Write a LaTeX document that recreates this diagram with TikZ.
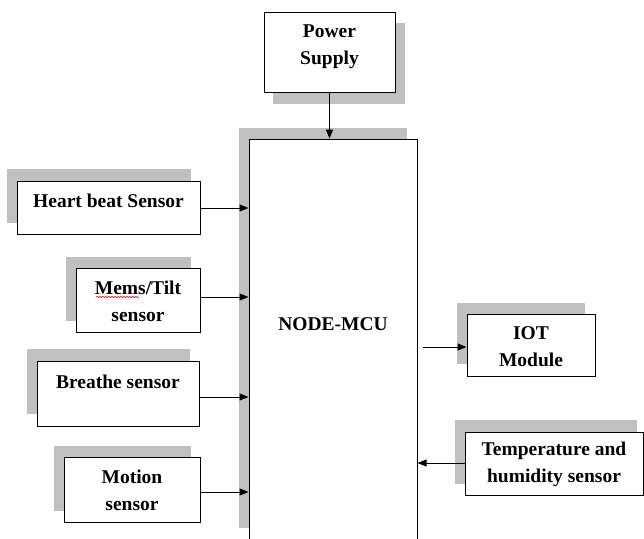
\documentclass[tikz,border=0pt]{standalone}
\usepackage{fontspec}
\setmainfont{Liberation Serif}
\usetikzlibrary{arrows.meta,decorations.pathmorphing}
\definecolor{shadowgray}{RGB}{192,192,192}
\tikzset{
  shadowfill/.style={fill=shadowgray,draw=none},
  blockbox/.style={draw=black,line width=1pt,fill=white,inner sep=0pt},
  lbl/.style={font=\fontsize{19.5}{27}\selectfont\bfseries,align=center,inner sep=0pt},
  arr/.style={line width=1pt,-{Triangle[length=9pt,width=7pt]}},
  squiggle/.style={red,line width=0.5pt,decorate,decoration={snake,amplitude=0.8pt,segment length=3pt}}
}
% \blk{name}{x1}{y1}{x2}{y2}{text y}{text}
\newcommand{\blk}[7]{%
  \node[blockbox,minimum width=#4pt-#2pt,minimum height=#5pt-#3pt] (#1) at ({(#2+#4)/2},{(#3+#5)/2}) {};
  \node[lbl] (#1-t) at ({(#2+#4)/2},#6) {#7};
}
\begin{document}
\begin{tikzpicture}[x=1pt,y=-1pt]
\useasboundingbox (0,0) rectangle (644,538);
\begin{scope}
\clip (0,0) rectangle (644,538);
% shadows
\path[shadowfill] (273,23) rectangle (405,104);
\path[shadowfill] (239,128) rectangle (407,528);
\path[shadowfill] (7,169) rectangle (191,223);
\path[shadowfill] (66,257) rectangle (191,321);
\path[shadowfill] (27,349) rectangle (190,414);
\path[shadowfill] (54,446) rectangle (191,511);
\path[shadowfill] (457,303) rectangle (585,364);
\path[shadowfill] (455,420) rectangle (637,484);
% blocks
\blk{ps}{264}{12}{395}{92}{46.5}{Power\\Supply}
\blk{mcu}{249}{139}{417}{600}{324}{NODE-MCU}
\blk{hb}{17}{181}{200}{234}{201}{Heart beat Sensor}
\blk{mems}{76}{268}{200}{332}{301}{Mems/Tilt\\sensor}
\blk{br}{37}{361}{199}{426}{382}{Breathe sensor}
\blk{mo}{64}{457}{200}{522}{490}{Motion\\sensor}
\blk{iot}{467}{314}{595}{376}{346.5}{IOT\\Module}
\blk{th}{465}{432}{643}{495}{464.5}{Temperature and\\humidity sensor}
\end{scope}
\draw[squiggle] (96,297) -- (139,297);
% connectors
\draw[arr] (ps.south) -- (mcu.north -| ps.south);
\coordinate (hbA) at (200,208);
\coordinate (memsA) at (200,297);
\coordinate (brA) at (199,397);
\coordinate (moA) at (200,492);
\draw[arr] (hbA) -- (mcu.west |- hbA);
\draw[arr] (memsA) -- (mcu.west |- memsA);
\draw[arr] (brA) -- (mcu.west |- brA);
\draw[arr] (moA) -- (mcu.west |- moA);
\coordinate (iotS) at (423,347);
\draw[arr] (iotS) -- (iot.west |- iotS);
\coordinate (thA) at (465,463);
\draw[arr] (thA) -- (mcu.east |- thA);
\end{tikzpicture}
\end{document}
